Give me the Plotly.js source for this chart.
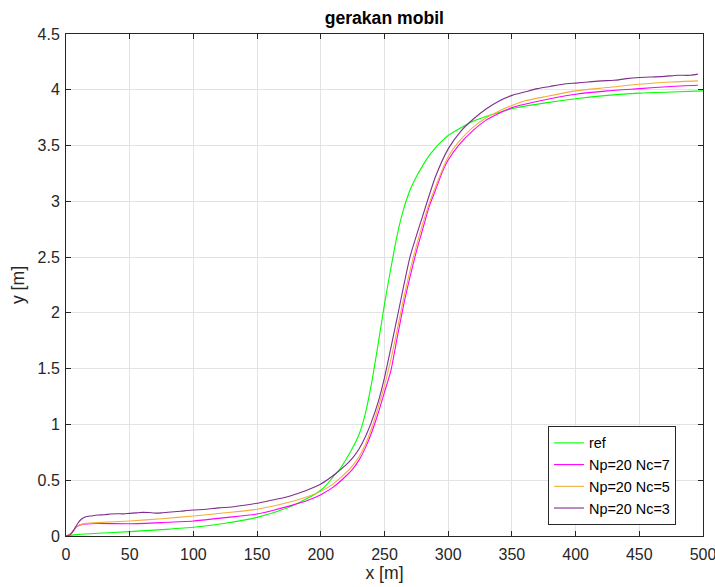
<!DOCTYPE html>
<html>
<head>
<meta charset="utf-8">
<script src="https://cdn.plot.ly/plotly-3.0.1.min.js"></script>
<style>html,body{margin:0;padding:0;background:#fff;}#chart{width:715px;height:587px;}</style>
</head>
<body>
<div id="chart"></div>
<script>
// ---- data ----
var refX = [0,5,10,25,50,75,100,125,150,175,190,200,205,210,215,220,225,230,235,240,245,250,255,260,265,270,275,280,285,290,295,300,310,320,335,350,375,400,425,450,475,500];
var refY = [0,0.008,0.015,0.025,0.039,0.057,0.078,0.115,0.167,0.258,0.34,0.41,0.465,0.535,0.6,0.69,0.79,0.91,1.1,1.38,1.72,2.08,2.4,2.7,2.93,3.1,3.22,3.32,3.41,3.48,3.54,3.59,3.66,3.72,3.78,3.83,3.88,3.92,3.95,3.97,3.98,3.99];

var nc7X = [0,4,8,12,16,25,50,75,100,125,150,175,190,200,210,220,225,230,235,240,245,250,255,260,265,270,275,280,285,290,296,300,308,320,330,340,350,360,380,400,425,450,475,496];
var nc7Y = [0,0.02,0.08,0.1,0.107,0.112,0.11,0.12,0.134,0.165,0.197,0.268,0.32,0.37,0.44,0.54,0.6,0.68,0.79,0.93,1.1,1.29,1.48,1.78,2.07,2.32,2.55,2.75,2.95,3.1,3.28,3.37,3.5,3.64,3.73,3.79,3.84,3.87,3.92,3.96,3.99,4.01,4.03,4.04];

var nc5X = [0,4,8,12,16,25,50,75,100,125,150,175,190,200,210,220,225,230,235,240,245,250,255,260,265,270,275,280,285,290,296,300,308,320,330,340,350,360,377,400,425,450,475,496];
var nc5Y = [0,0.02,0.085,0.105,0.113,0.12,0.134,0.155,0.179,0.208,0.24,0.302,0.355,0.4,0.47,0.57,0.63,0.71,0.82,0.97,1.15,1.35,1.58,1.85,2.13,2.38,2.6,2.8,2.98,3.13,3.3,3.4,3.53,3.67,3.75,3.81,3.86,3.9,3.94,3.99,4.02,4.05,4.07,4.08];

var nc3X = [0,3,6,9,12,15,20,25,30,35,40,45,50,55,60,65,70,75,80,85,90,95,100,110,120,130,140,150,160,170,180,190,200,210,220,225,230,235,240,245,250,260,270,280,290,300,310,320,330,340,350,360,370,380,390,400,410,420,430,440,450,460,470,480,490,496];
var nc3Y = [0,0.01,0.05,0.11,0.15,0.17,0.18,0.188,0.19,0.197,0.2,0.198,0.203,0.207,0.212,0.21,0.205,0.207,0.213,0.218,0.222,0.228,0.233,0.24,0.252,0.26,0.275,0.293,0.318,0.34,0.375,0.415,0.466,0.545,0.64,0.7,0.78,0.89,1.03,1.2,1.42,1.96,2.5,2.87,3.22,3.47,3.63,3.74,3.83,3.9,3.95,3.98,4.01,4.03,4.05,4.06,4.07,4.08,4.085,4.1,4.11,4.115,4.12,4.13,4.13,4.14];

var names = ['ref','Np=20 Nc=7','Np=20 Nc=5','Np=20 Nc=3'];
var xTicks = [0,50,100,150,200,250,300,350,400,450,500];
var yTicks = [0,0.5,1,1.5,2,2.5,3,3.5,4,4.5];
var yTickText = ['0','0.5','1','1.5','2','2.5','3','3.5','4','4.5'];

var colors = ['#00ff00','#ff00ff','#f2ae3a','#7e2f8e'];
var xs = [refX,nc7X,nc5X,nc3X];
var ys = [refY,nc7Y,nc5Y,nc3Y];
var traces = xs.map(function(x,i){
  return {x:x, y:ys[i], type:'scatter', mode:'lines', name:names[i],
          line:{color:colors[i], width:1.1, shape:'spline', smoothing:0.6}};
});

var FONT = 'Liberation Sans, Arial, sans-serif';
var axisCommon = {
  showline:true, linecolor:'#262626', linewidth:1, mirror:'ticks',
  ticks:'inside', ticklen:5, tickcolor:'#262626',
  showgrid:true, gridcolor:'#e3e3e3', gridwidth:1, zeroline:false,
  ticklabeloverflow:'allow',
  tickfont:{family:FONT, size:16, color:'#262626'}
};

var layout = {
  width:715, height:587,
  margin:{l:66, r:12, t:34, b:51},
  paper_bgcolor:'#ffffff', plot_bgcolor:'#ffffff',
  font:{family:FONT, color:'#262626'},
  title:{text:'<b>gerakan mobil</b>', font:{size:17.6, color:'#000'}, x:0.5375, xanchor:'center', y:0.969, yanchor:'middle'},
  xaxis:Object.assign({}, axisCommon, {
    range:[0,500], tickvals:xTicks, ticktext:xTicks.map(String), ticklabelstandoff:4,
    title:{text:'x [m]', font:{size:17.6, color:'#262626'}, standoff:3}
  }),
  yaxis:Object.assign({}, axisCommon, {
    range:[0,4.5], tickvals:yTicks, ticktext:yTickText, ticklabelstandoff:2,
    title:{text:'y [m]', font:{size:17.6, color:'#262626'}, standoff:8}
  }),
  showlegend:true,
  legend:{x:0.7567, y:0.1205, xanchor:'left', yanchor:'middle',
    bgcolor:'#ffffff', bordercolor:'#262626', borderwidth:1,
    font:{size:14.4, color:'#000'}, tracegroupgap:0, itemwidth:30}
};

Plotly.newPlot('chart', traces, layout, {staticPlot:true, displayModeBar:false});
</script>
</body>
</html>
